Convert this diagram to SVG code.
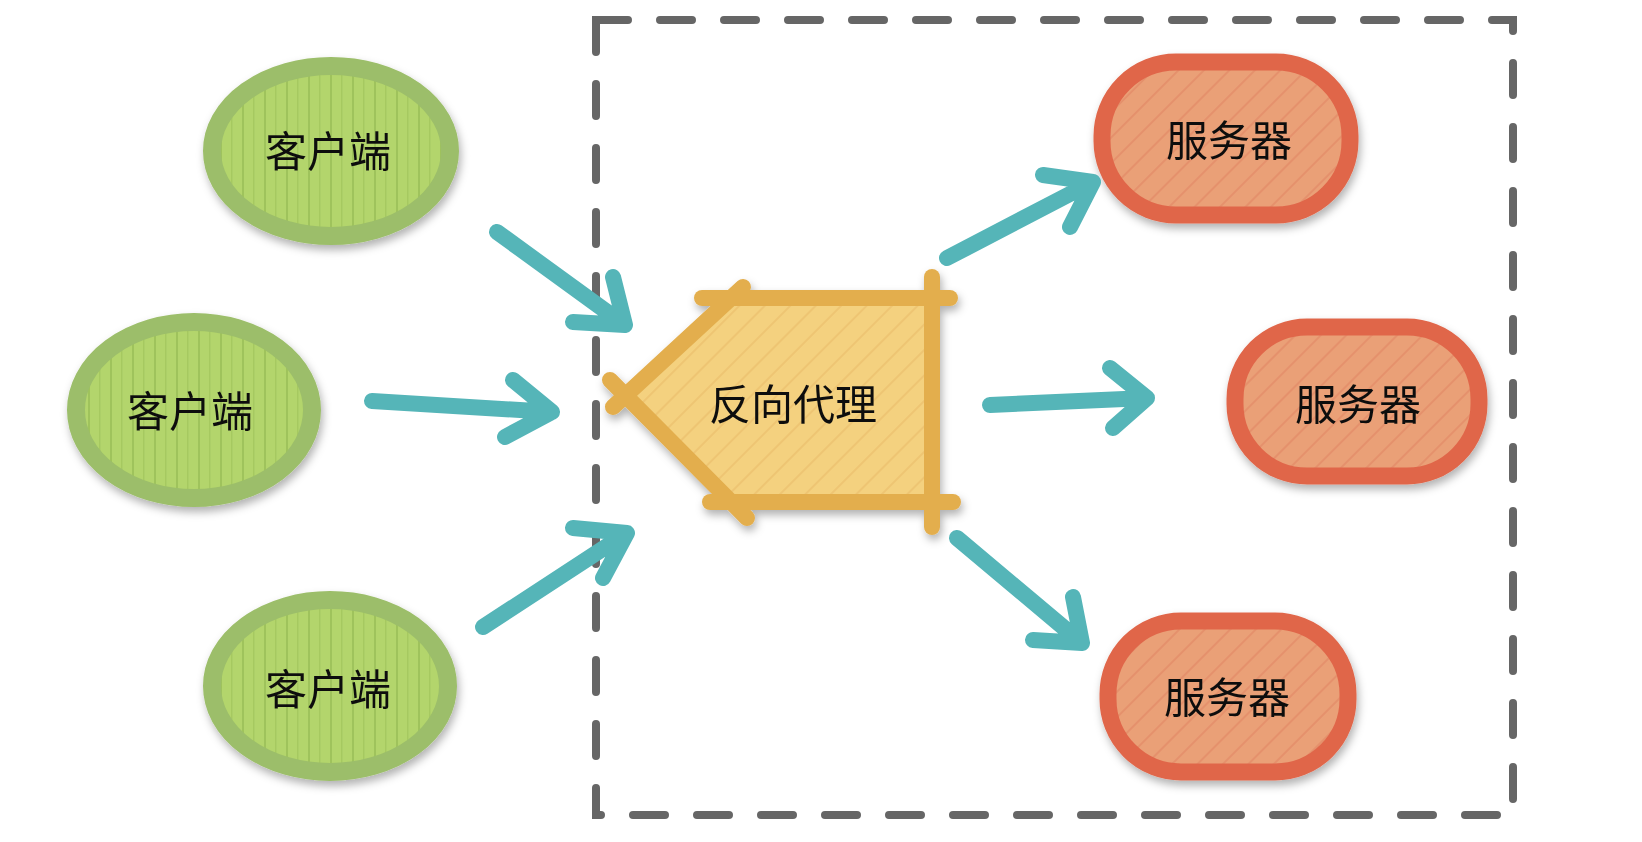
<svg xmlns="http://www.w3.org/2000/svg" width="1642" height="842" viewBox="0 0 1642 842">
<defs>
  <filter id="sh" x="-20%" y="-20%" width="140%" height="150%">
    <feDropShadow dx="2" dy="5" stdDeviation="4" flood-color="#000" flood-opacity="0.3"/>
  </filter>
  <pattern id="vh" patternUnits="userSpaceOnUse" width="22" height="40">
    <rect width="22" height="40" fill="#B3D56C"/>
    <rect x="0" width="2" height="40" fill="#9FC35C"/>
    <rect x="11" width="1.5" height="40" fill="#A6C961"/>
  </pattern>
  <pattern id="dhO" patternUnits="userSpaceOnUse" width="18" height="18" patternTransform="rotate(45)">
    <rect width="18" height="18" fill="#EAA077"/>
    <rect width="2" height="18" fill="#E5916C"/>
  </pattern>
  <pattern id="dhY" patternUnits="userSpaceOnUse" width="18" height="18" patternTransform="rotate(45)">
    <rect width="18" height="18" fill="#F4D17F"/>
    <rect width="2" height="18" fill="#EEC573"/>
  </pattern>
</defs>
<style>
  .client ellipse{fill:url(#vh);stroke:#9CBE6A;stroke-width:18;}
  .server rect{fill:url(#dhO);stroke:#E0664A;stroke-width:17;}
  .lbl{font-family:"Noto Sans CJK SC","Noto Sans",sans-serif;font-size:42px;fill:#111;text-anchor:middle;dominant-baseline:central;}
  .arr{fill:none;stroke:#55B5B8;stroke-width:16;stroke-linecap:round;stroke-linejoin:round;}
  .px{fill:none;stroke:#E3AE4E;stroke-width:16;stroke-linecap:round;}
</style>
<rect x="596" y="20" width="917" height="795" fill="none" stroke="#666" stroke-width="8" stroke-dasharray="32 32" stroke-linecap="round"/>

<g id="client1" class="client" filter="url(#sh)">
  <ellipse cx="331" cy="151" rx="119" ry="85"/>
  <text class="lbl" x="328" y="148">客户端</text>
</g>
<g id="client2" class="client" filter="url(#sh)">
  <ellipse cx="194" cy="410" rx="118" ry="88"/>
  <text class="lbl" x="190" y="408">客户端</text>
</g>
<g id="client3" class="client" filter="url(#sh)">
  <ellipse cx="330" cy="686" rx="118" ry="86"/>
  <text class="lbl" x="328" y="686">客户端</text>
</g>

<g id="proxy" filter="url(#sh)">
  <polygon points="630,393 735,298 932,298 932,502 735,502" fill="url(#dhY)"/>
  <line class="px" x1="702" y1="298" x2="950" y2="298"/>
  <line class="px" x1="932" y1="277" x2="932" y2="527"/>
  <line class="px" x1="710" y1="502" x2="953" y2="502"/>
  <line class="px" x1="743" y1="287" x2="613" y2="407"/>
  <line class="px" x1="610" y1="380" x2="747" y2="518"/>
  <text class="lbl" x="793" y="401">反向代理</text>
</g>

<g id="server1" class="server" filter="url(#sh)">
  <rect x="1102" y="62" width="248" height="153" rx="74"/>
  <text class="lbl" x="1229" y="137">服务器</text>
</g>
<g id="server2" class="server" filter="url(#sh)">
  <rect x="1235" y="327" width="244" height="149" rx="72"/>
  <text class="lbl" x="1358" y="401">服务器</text>
</g>
<g id="server3" class="server" filter="url(#sh)">
  <rect x="1108" y="621" width="240" height="151" rx="73"/>
  <text class="lbl" x="1227" y="694">服务器</text>
</g>

<g id="connectors">
  <path class="arr" d="M497,232 L625,325 M613,277 L625,325 L573,322"/>
  <path class="arr" d="M372,401 L552,412 M513,380 L552,412 L505,437"/>
  <path class="arr" d="M483,627 L627,533 M573,528 L627,533 L603,578"/>
  <path class="arr" d="M947,258 L1093,182 M1043,175 L1093,182 L1070,227"/>
  <path class="arr" d="M990,405 L1147,398 M1110,368 L1147,398 L1113,428"/>
  <path class="arr" d="M957,538 L1082,643 M1073,597 L1082,643 L1033,640"/>
</g>
</svg>
